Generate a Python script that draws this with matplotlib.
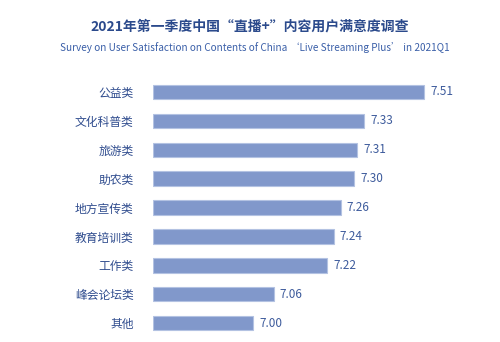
import matplotlib
matplotlib.use('Agg')
import matplotlib.pyplot as plt
import numpy as np

plt.rcParams['font.family'] = ['Noto Sans CJK SC', 'DejaVu Sans']

categories = ['公益类', '文化科普类', '旅游类', '助农类', '地方宣传类',
              '教育培训类', '工作类', '峰会论坛类', '其他']
scores = [7.51, 7.33, 7.31, 7.30, 7.26, 7.24, 7.22, 7.06, 7.00]

title_cn = '2021年第一季度中国“直播+”内容用户满意度调查'
title_en = 'Survey on User Satisfaction on Contents of China \u2018Live Streaming Plus\u2019 in 2021Q1'

W, H = 500, 342
fig = plt.figure(figsize=(W / 100, H / 100), dpi=100)
fig.patch.set_facecolor('white')

# axes placed in pixel terms: left edge of bars at x=153, rows from y=77 to 338
left, right, top, bottom = 153, 485, 77.5, 337.5
ax = fig.add_axes([left / W, 1 - bottom / H, (right - left) / W, (bottom - top) / H])

xmin = 6.70
xmax = xmin + (right - left) / 335.0
y = np.arange(len(categories))

ax.barh(y, np.array(scores) - xmin, left=xmin, height=0.5,
        color='#8198cb', edgecolor='#b3c2e2', linewidth=0.8)

for yi, v in zip(y, scores):
    ax.text(v + 0.018, yi, f'{v:.2f}', va='center', ha='left',
            fontsize=8.5, color='#3d5b9c')

ax.set_xlim(xmin, xmax)
ax.set_ylim(len(categories) - 0.5, -0.5)
ax.set_yticks(y)
ax.set_yticklabels(categories, fontsize=8.5, color='#2f4c8e')
ax.tick_params(axis='y', length=0, pad=14)
ax.set_xticks([])
for s in ax.spines.values():
    s.set_visible(False)

fig.text(0.5, 1 - 27 / H, title_cn, ha='center', va='center',
         fontsize=10, fontweight='bold', color='#2b4a8c')
fig.text(0.51, 1 - 48 / H, title_en, ha='center', va='center',
         fontsize=7.2, color='#3a5fa8')

fig.savefig('out.png', dpi=100)
